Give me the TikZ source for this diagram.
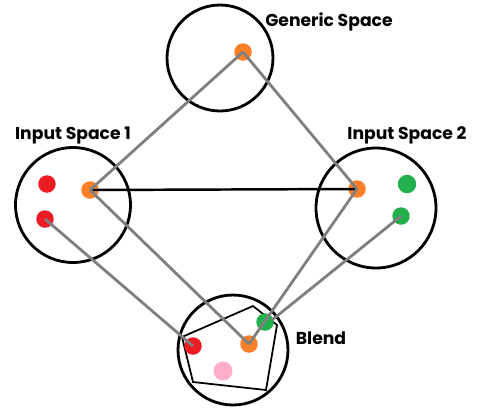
\documentclass[tikz,border=0pt]{standalone}
\usepackage{fontspec}
\setmainfont{Poppins}
\usetikzlibrary{positioning}
\definecolor{dotred}{RGB}{237,28,36}
\definecolor{dotorange}{RGB}{255,127,39}
\definecolor{dotgreen}{RGB}{34,177,76}
\definecolor{dotpink}{RGB}{255,174,201}
\definecolor{linkgray}{RGB}{127,127,127}
\begin{document}
\begin{tikzpicture}[x=0.02cm,y=-0.02cm]
\def\d{0.35cm}
\def\w{1.6pt}
\useasboundingbox (0,0) rectangle (480,417);
% spaces
\node [draw,black,line width=\w, circle, minimum size=2.12cm, name=gen] at (220,58) {};
\node [draw,black,line width=\w, circle, minimum size=2.3cm, name=in1] at (73,205) {};
\node [draw,black,line width=\w, circle, minimum size=2.4cm, name=in2] at (376,208) {};
\node [draw,black,line width=\w, circle, minimum size=2.2cm, name=bl] at (233,350) {};
% blend polygon
\coordinate (p1) at (182,337);
\coordinate (p2) at (253,306);
\coordinate (p3) at (277,325);
\coordinate (p4) at (266,390);
\coordinate (p5) at (193,382);
\draw [black,line width=1pt] (p1) -- (p2) -- (p3) -- (p4) -- (p5) -- cycle;
% dots
\node [fill=dotorange, circle, inner sep=0pt, minimum size=\d, name=g1] at (243,52) {};
\node [fill=dotred, circle, inner sep=0pt, minimum size=\d, name=a1] at (47,184) {};
\node [fill=dotred, circle, inner sep=0pt, minimum size=\d, name=a2] at (45,219) {};
\node [fill=dotorange, circle, inner sep=0pt, minimum size=\d, name=a3] at (90,190) {};
\node [fill=dotorange, circle, inner sep=0pt, minimum size=\d, name=b1] at (357,189) {};
\node [fill=dotgreen, circle, inner sep=0pt, minimum size=0.37cm, name=b2] at (407,184) {};
\node [fill=dotgreen, circle, inner sep=0pt, minimum size=\d, name=b3] at (401,216) {};
\node [fill=dotred, circle, inner sep=0pt, minimum size=\d, name=c1] at (193,346) {};
\node [fill=dotorange, circle, inner sep=0pt, minimum size=\d, name=c2] at (249,344) {};
\node [fill=dotgreen, circle, inner sep=0pt, minimum size=\d, name=c3] at (265,322) {};
\node [fill=dotpink, circle, inner sep=0pt, minimum size=0.38cm, name=c4] at (223,371) {};
\coordinate (c3e) at (272,320);
% links
\draw [black,line width=1.4pt] (a3.center) -- (b1.center);
\draw [linkgray,line width=\w] (g1.center) -- (a3.center);
\draw [linkgray,line width=\w] (g1.center) -- (b1.center);
\draw [linkgray,line width=\w] (a3.center) -- (c2.center);
\draw [linkgray,line width=\w] (b1.center) -- (c2.center);
\draw [linkgray,line width=\w] (a2.center) -- (c1.center);
\draw [linkgray,line width=\w] (b3.center) -- (c3e);
% labels
\node [font=\bfseries\fontsize{9.8}{12}\selectfont, name=tgen] at (329,22) {Generic Space};
\node [font=\bfseries\fontsize{9.8}{12}\selectfont, name=tin1] at (73,135) {Input Space 1};
\node [font=\bfseries\fontsize{9.8}{12}\selectfont, name=tin2] at (407,135) {Input Space 2};
\node [font=\bfseries\fontsize{9.8}{12}\selectfont, name=tbl] at (321,338) {Blend};
\end{tikzpicture}
\end{document}
